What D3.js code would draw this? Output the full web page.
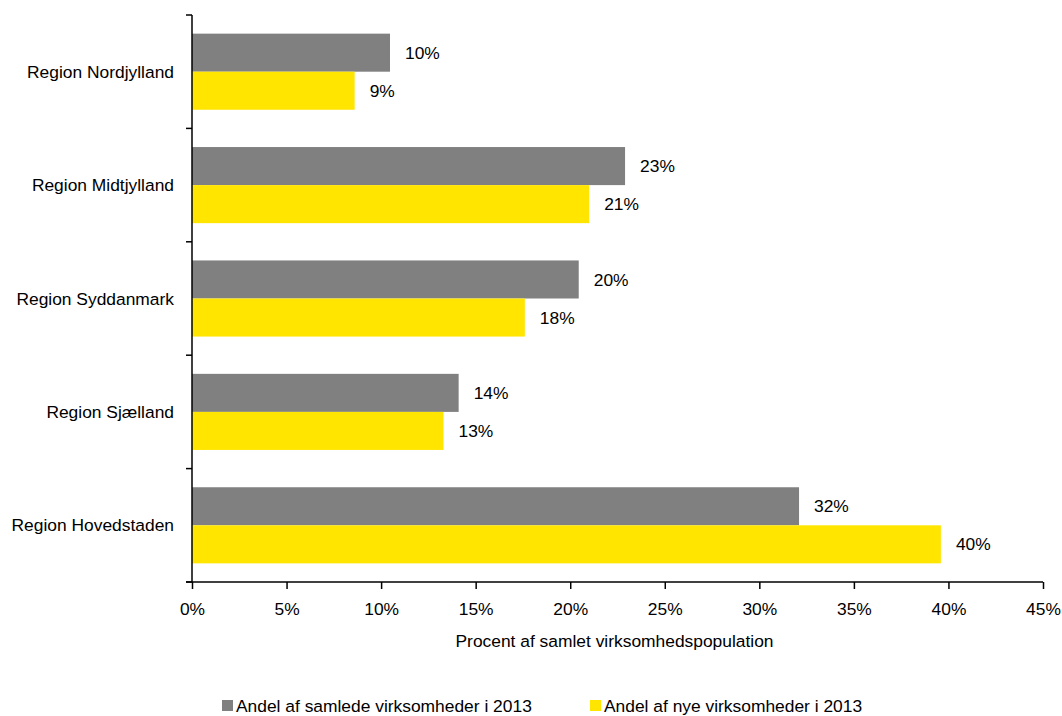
<!DOCTYPE html>
<head>
    <meta charset="utf-8">
    <style>
        body { margin: 0; background: #fff; font-family: "Liberation Sans", Arial, sans-serif; }
        .axis path, .axis line { stroke: #000; stroke-width: 1.5px; }
        .axis text { font-size: 17.4px; fill: #000; }
        .lbl { font-size: 17.4px; fill: #000; }
    </style>
    <script src="https://d3js.org/d3.v7.min.js"></script>
</head>
<body>
<script>
    // data
    const regions = ["Region Nordjylland", "Region Midtjylland", "Region Syddanmark", "Region Sjælland", "Region Hovedstaden"];
    const samlede = [10.47, 22.9, 20.45, 14.1, 32.1];
    const nye = [8.6, 21.0, 17.6, 13.3, 39.6];
    const seriesNames = ["Andel af samlede virksomheder i 2013", "Andel af nye virksomheder i 2013"];
    const colors = ["#808080", "#FFE500"];
    const xTicks = [0, 5, 10, 15, 20, 25, 30, 35, 40, 45];

    const width = 1062, height = 716;
    const margin = {left: 192, right: 19, top: 15, bottom: 134};

    const svg = d3.select("body").append("svg")
        .attr("width", width).attr("height", height);

    const x = d3.scaleLinear().domain([0, 45]).range([margin.left, width - margin.right]);
    const y = d3.scaleBand().domain(regions).range([margin.top, height - margin.bottom]);
    const inner = d3.scaleBand().domain([0, 1]).range([0, y.bandwidth()]).paddingOuter(0.49).paddingInner(0);

    const series = [samlede, nye];

    series.forEach((vals, s) => {
        svg.selectAll(".bar" + s).data(regions).enter().append("rect")
            .attr("x", x(0))
            .attr("y", d => y(d) + inner(s))
            .attr("width", (d, i) => x(vals[i]) - x(0))
            .attr("height", inner.bandwidth())
            .attr("fill", colors[s]);

        svg.selectAll(".lbl" + s).data(regions).enter().append("text")
            .attr("class", "lbl")
            .attr("x", (d, i) => x(vals[i]) + 15)
            .attr("y", d => y(d) + inner(s) + inner.bandwidth() / 2)
            .attr("dy", "0.35em")
            .text((d, i) => Math.round(vals[i]) + "%");
    });

    // y axis with ticks at band edges
    const yAxisG = svg.append("g").attr("class", "axis");
    yAxisG.append("line").attr("x1", x(0)).attr("x2", x(0))
        .attr("y1", margin.top).attr("y2", height - margin.bottom);
    const edges = regions.map(r => y(r)).concat([height - margin.bottom]);
    yAxisG.selectAll(".tk").data(edges).enter().append("line")
        .attr("x1", x(0) - 6).attr("x2", x(0)).attr("y1", d => d).attr("y2", d => d);
    yAxisG.selectAll(".cat").data(regions).enter().append("text")
        .attr("x", x(0) - 18)
        .attr("y", d => y(d) + y.bandwidth() / 2)
        .attr("dy", "0.35em")
        .attr("text-anchor", "end")
        .text(d => d);

    // x axis
    const xAxis = d3.axisBottom(x).tickValues(xTicks).tickFormat(d => d + "%").tickSize(7).tickSizeOuter(0).tickPadding(14);
    const xg = svg.append("g").attr("class", "axis")
        .attr("transform", `translate(0,${height - margin.bottom})`)
        .call(xAxis);
    xg.select(".domain").attr("d", `M${x(0) - 6},0H${x(45)}`);
    xg.selectAll("text").style("font-family", "inherit");

    svg.append("text").attr("class", "lbl")
        .attr("x", (x(0) + x(45)) / 2 - 3).attr("y", 647)
        .attr("text-anchor", "middle")
        .text("Procent af samlet virksomhedspopulation");

    // legend
    const legX = [222, 590];
    seriesNames.forEach((n, i) => {
        svg.append("rect").attr("x", legX[i]).attr("y", 700).attr("width", 11).attr("height", 11).attr("fill", colors[i]);
        svg.append("text").attr("class", "lbl").attr("x", legX[i] + 14).attr("y", 706)
            .attr("dy", "0.35em").text(n);
    });
</script>
</body>
